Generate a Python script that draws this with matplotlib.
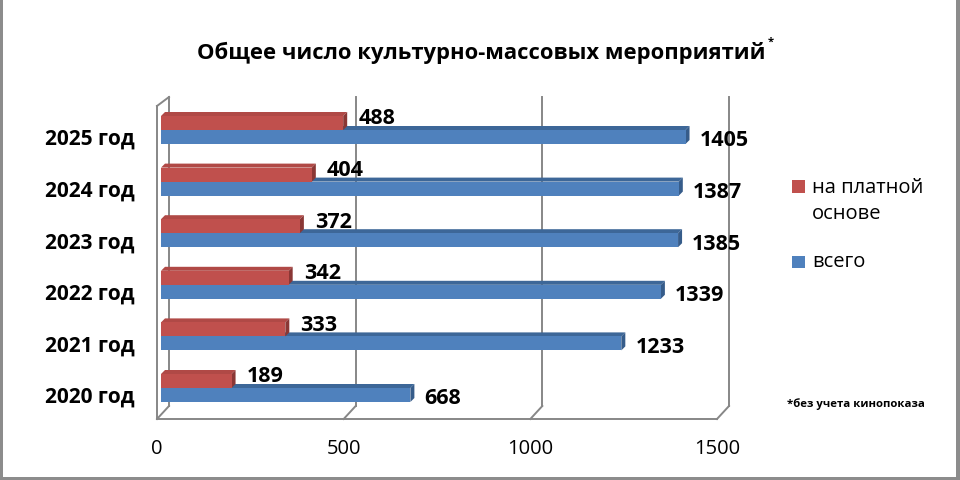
import matplotlib
matplotlib.use("Agg")
import matplotlib.pyplot as plt
from matplotlib.patches import Polygon, Rectangle
from matplotlib.lines import Line2D

plt.rcParams['font.family'] = ['Open Sans', 'DejaVu Sans']

# ---- data ----
categories = ["2020 год", "2021 год", "2022 год", "2023 год", "2024 год", "2025 год"]
paid = [189, 333, 342, 372, 404, 488]
total = [668, 1233, 1339, 1385, 1387, 1405]
series_names = ["на платной\nоснове", "всего"]
xticks = [0, 500, 1000, 1500]
title = "Общее число культурно-массовых мероприятий"
footnote = "*без учета кинопоказа"

RED = "#C0504D"; RED_TOP = "#B04946"; RED_SIDE = "#8A3735"
BLUE = "#4F81BD"; BLUE_TOP = "#3D6798"; BLUE_SIDE = "#365C8A"
GRID = "#878787"

W, H = 960, 480
fig = plt.figure(figsize=(W / 100, H / 100), dpi=100)

# axes = front plane (pixel geometry)
L, R, B, T = 157, 717, 419, 110
ax = fig.add_axes([L / W, (H - B) / H, (R - L) / W, (B - T) / H])
ax.set_xlim(0, 1500)
base_px = 392.0      # pixel y of first category in front plane
step_px = 51.6
ymin = -(B - base_px) / step_px
ymax = (base_px - T) / step_px
ax.set_ylim(ymin, ymax)
for s in ax.spines.values():
    s.set_visible(False)
ax.patch.set_visible(False)

sx = (R - L) / 1500.0      # px per x unit
sy = step_px               # px per y unit

def dxp(p):
    return p / sx

def dyp(p):
    return p / sy

# walls (back plane offset)
wx, wy = dxp(12), dyp(13)
top_back = (base_px - 97) / step_px
top_front = (base_px - 106) / step_px
for v in xticks:
    ax.add_line(Line2D([v + wx, v + wx], [ymin + wy, top_back], color=GRID, lw=1.4, clip_on=False, zorder=1))
    ax.add_line(Line2D([v, v + wx], [ymin, ymin + wy], color=GRID, lw=1.4, clip_on=False, zorder=1))
ax.add_line(Line2D([0, 1500], [ymin, ymin], color=GRID, lw=1.4, clip_on=False, zorder=1))
ax.add_line(Line2D([0, 0], [ymin, top_front], color=GRID, lw=1.4, clip_on=False, zorder=1))
ax.add_line(Line2D([0, wx], [top_front, top_back], color=GRID, lw=1.4, clip_on=False, zorder=1))

# bars
ox, oy = dxp(4), dyp(4)       # bar front-plane offset (right and up)
d_x, d_y = dxp(4), dyp(4)     # bar depth
h = dyp(14)
ypos = list(range(len(categories)))

def bar3d(x0, y0, length, height, front, top, side, z):
    x1 = x0 + length
    y1 = y0 + height
    ax.add_patch(Polygon([[x0, y1], [x1, y1], [x1 + d_x, y1 + d_y], [x0 + d_x, y1 + d_y]],
                         closed=True, facecolor=top, edgecolor='none', zorder=z, clip_on=False))
    ax.add_patch(Polygon([[x1, y0], [x1 + d_x, y0 + d_y], [x1 + d_x, y1 + d_y], [x1, y1]],
                         closed=True, facecolor=side, edgecolor='none', zorder=z, clip_on=False))
    ax.add_patch(Rectangle((x0, y0), length, height, facecolor=front, edgecolor='none',
                           zorder=z + 0.1, clip_on=False))

for i, (p, t) in enumerate(zip(paid, total)):
    yb = ypos[i] + oy
    bar3d(ox, yb - h, t, h, BLUE, BLUE_TOP, BLUE_SIDE, 2 + i * 0.5)
    bar3d(ox, yb, p, h, RED, RED_TOP, RED_SIDE, 2.2 + i * 0.5)
    ax.annotate(str(p), xy=(ox + p, yb + h / 2), xytext=(15 * 0.72, 4 * 0.72),
                textcoords='offset points', ha='left', va='center',
                fontsize=15.5, fontweight='bold', color='black', zorder=10, annotation_clip=False)
    ax.annotate(str(t), xy=(ox + t, yb - h / 2), xytext=(14 * 0.72, -4 * 0.72),
                textcoords='offset points', ha='left', va='center',
                fontsize=15.5, fontweight='bold', color='black', zorder=10, annotation_clip=False)

# ticks
ax.set_yticks([y - dyp(3) for y in ypos])
ax.set_yticklabels(categories, fontsize=15, fontweight='bold')
ax.tick_params(axis='y', length=0, pad=16)
ax.set_xticks(xticks)
ax.set_xticklabels([str(v) for v in xticks], fontsize=14.5)
ax.tick_params(axis='x', length=0, pad=14.5)

# title
fig.text(481 / W, 1 - 53 / H, title, ha='center', va='center', fontsize=15.8, fontweight='bold')
fig.text(771 / W, 1 - 42 / H, "*", ha='center', va='center', fontsize=8, fontweight='bold')

# legend
fig.add_artist(Rectangle((792 / W, 1 - 193 / H), 13 / W, 13 / H, transform=fig.transFigure,
                         facecolor=RED, edgecolor='none'))
fig.text(812 / W, 1 - 201 / H, series_names[0], ha='left', va='center', fontsize=14.5,
         linespacing=1.35)
fig.add_artist(Rectangle((792 / W, 1 - 268 / H), 13 / W, 12 / H, transform=fig.transFigure,
                         facecolor=BLUE, edgecolor='none'))
fig.text(812 / W, 1 - 262 / H, series_names[1], ha='left', va='center', fontsize=14.5)

fig.text(787 / W, 1 - 404 / H, footnote, ha='left', va='center', fontsize=8.2, fontweight='bold')

# outer frame
FR = "#8C8C8C"
fig.add_artist(Rectangle((0, 0), 3 / W, 1, transform=fig.transFigure, facecolor=FR, edgecolor='none'))
fig.add_artist(Rectangle((1 - 4 / W, 0), 4 / W, 1, transform=fig.transFigure, facecolor=FR, edgecolor='none'))
fig.add_artist(Rectangle((0, 0), 1, 3 / H, transform=fig.transFigure, facecolor=FR, edgecolor='none'))

fig.savefig("out.png", dpi=100, facecolor='white')
